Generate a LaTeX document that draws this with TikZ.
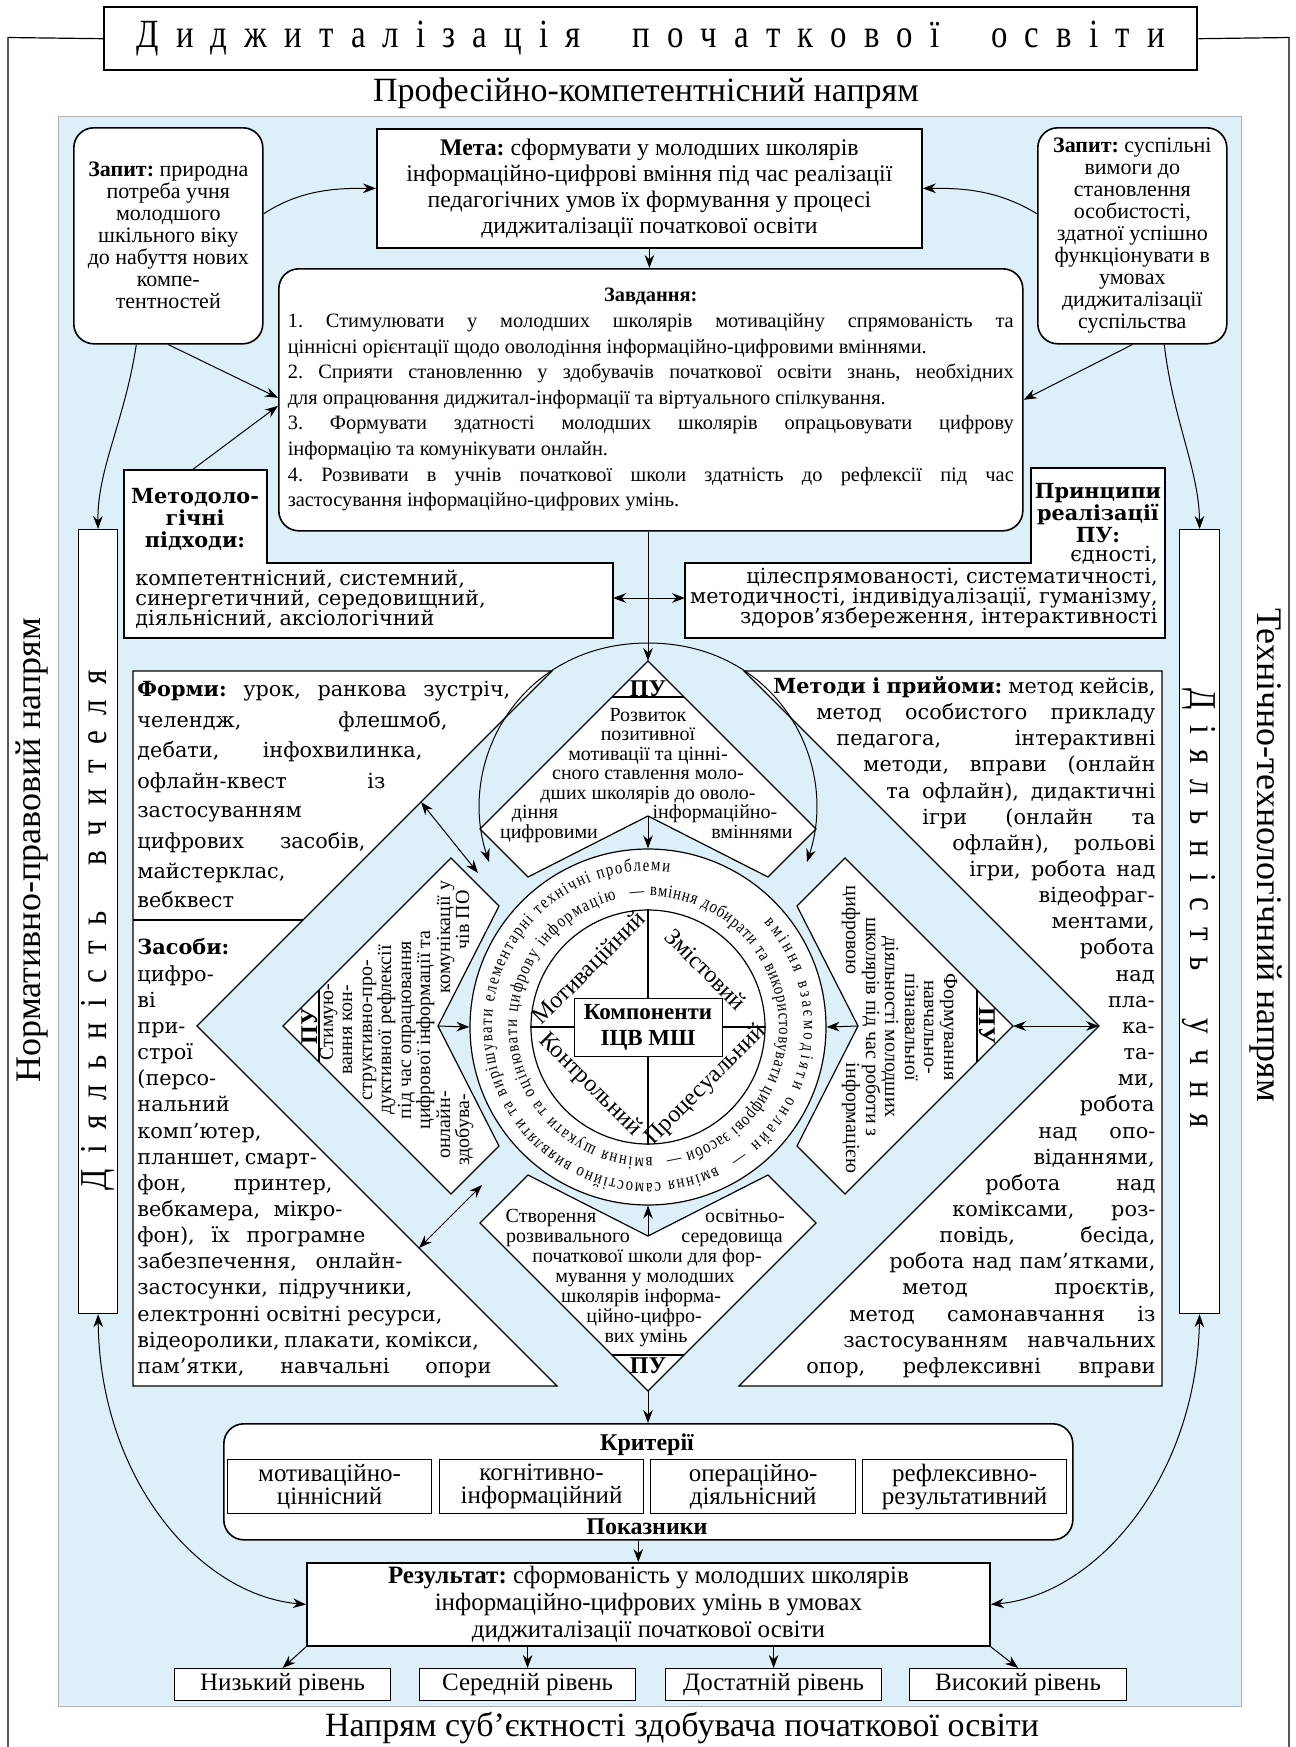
\documentclass[tikz,border=0pt]{standalone}
\usepackage{fontspec}
\setmainfont{Liberation Serif}
\newfontfamily\wf{DejaVu Serif}
\newfontfamily\cnd[FakeStretch=0.82]{Liberation Serif}
\usetikzlibrary{arrows.meta,decorations.text}
\definecolor{bgblue}{RGB}{221,240,250}
\frenchspacing
\newcommand\fsz[2]{\fontsize{#1}{#2}\selectfont}
\newcommand\ringf{\cnd\fsz{9}{10}}
\newcommand\fjl[4]{\node[wtext,anchor=base west] (j#1x#3) at (#1,#3) {\makebox[\dimexpr #2pt/2-#1pt/2\relax][s]{#4}};}
\newcommand\fll[3]{\node[wtext,anchor=base west] (l#1x#2) at (#1,#2) {#3};}
\newcommand\frl[3]{\node[wtext,anchor=base east] (r#1x#2) at (#1,#2) {#3};}
\tikzset{
 box/.style={draw,fill=white,line width=0.6pt,inner sep=0pt,anchor=north west},
 rbox/.style={box,rounded corners=10pt,line width=0.8pt},
 shp/.style={draw,fill=white,line width=0.6pt},
 arr/.style={-{Stealth[length=6.5pt,width=4.8pt]},line width=0.5pt},
 darr/.style={{Stealth[length=6.5pt,width=4.8pt]}-{Stealth[length=6.5pt,width=4.8pt]},line width=0.5pt},
 wtext/.style={inner sep=0pt,font=\wf\fsz{10.4}{12}},
 putext/.style={inner sep=0pt,font=\fsz{10}{10},anchor=base},
 pulab/.style={inner sep=0pt,font=\bfseries\fsz{12}{12},anchor=base},
 qlab/.style={inner sep=0pt,font=\fsz{12}{12}},
 ringtext/.style={decorate,decoration={text along path,text={|\ringf|#1},text align={fit to path}}}
}
\begin{document}
\begin{tikzpicture}[x=0.5pt,y=-0.5pt]
\useasboundingbox (0,0) rectangle (1296,1747);
\fill[bgblue] (58,116) rectangle (1241,1706);
\draw[gray!60,line width=0.4pt] (58,116) rectangle (1241,1706);
% title and frame
\node[box,line width=1.2pt,minimum width=546.5pt,minimum height=31.5pt,font=\cnd\fsz{20}{20}] (title) at (103,6)
 {\makebox[514pt][s]{Д\hfill и\hfill д\hfill ж\hfill и\hfill т\hfill а\hfill л\hfill і\hfill з\hfill а\hfill ц\hfill і\hfill я\hfill\hfill\hfill п\hfill о\hfill ч\hfill а\hfill т\hfill к\hfill о\hfill в\hfill о\hfill ї\hfill\hfill\hfill о\hfill с\hfill в\hfill і\hfill т\hfill и}};
\draw[line width=0.6pt] (title.west) -- (8,37.5) -- (8,1747);
\draw[line width=0.6pt] (title.east) -- (1289,37.5) -- (1289,1747);
\node[font=\fsz{17}{17}] (napT) at (646,93) {Професійно-компетентнісний напрям};
\node[font=\fsz{18}{18},rotate=90] (napL) at (32,850) {Нормативно-правовий напрям};
\node[font=\fsz{18}{18},rotate=-90] (napR) at (1266,855) {Технічно-технологічний напрям};
\node[font=\fsz{17}{17}] (napB) at (682,1728) {Напрям суб’єктності здобувача початкової освіти};
% top boxes
\node[rbox,minimum width=94.5pt,minimum height=108pt,align=center,font=\fsz{11}{11}] (zapL) at (73,127)
 {\textbf{Запит:} природна\\потреба учня\\молодшого\\шкільного віку\\до набуття нових\\компе-\\тентностей};
\node[rbox,minimum width=94.5pt,minimum height=108pt,align=center,font=\fsz{11}{11}] (zapR) at (1037,127)
 {\textbf{Запит:} суспільні\\вимоги до\\становлення\\особистості,\\здатної успішно\\функціонувати в\\умовах\\диджиталізації\\суспільства};
\node[box,line width=0.9pt,minimum width=272.5pt,minimum height=59.5pt,align=center,font=\fsz{11.9}{13}] (meta) at (376,128)
 {\textbf{Мета:} сформувати у молодших школярів\\інформаційно-цифрові вміння під час реалізації\\педагогічних умов їх формування у процесі\\диджиталізації початкової освіти};
\node[rbox,minimum width=372pt,minimum height=131pt,align=left,font=\fsz{10.2}{12.8}] (zavd) at (278,268)
 {\makebox[363pt][c]{\textbf{Завдання:}}\\
  \makebox[363pt][s]{1. Стимулювати у молодших школярів мотиваційну спрямованість та}\\
  ціннісні орієнтації щодо оволодіння інформаційно-цифровими вміннями.\\
  \makebox[363pt][s]{2. Сприяти становленню у здобувачів початкової освіти знань, необхідних}\\
  для опрацювання диджитал-інформації та віртуального спілкування.\\
  \makebox[363pt][s]{3. Формувати здатності молодших школярів опрацьовувати цифрову}\\
  інформацію та комунікувати онлайн.\\
  \makebox[363pt][s]{4. Розвивати в учнів початкової школи здатність до рефлексії під час}\\
  застосування інформаційно-цифрових умінь.};
% approaches and principles
\draw[shp] (124,470) -- (267,470) -- (267,563) -- (613,563) -- (613,638) -- (124,638) -- cycle;
\node[font=\wf\bfseries\fsz{10.4}{11},align=center,inner sep=0pt] (mh) at (195,519) {Методоло-\\гічні\\підходи:};
\fll{135}{585}{компетентнісний, системний,}
\fll{135}{605}{синергетичний, середовищний,}
\fll{135}{625}{діяльнісний, аксіологічний}
\draw[shp] (1031,468) -- (1165,468) -- (1165,638) -- (685,638) -- (685,563) -- (1031,563) -- cycle;
\node[font=\wf\bfseries\fsz{10.4}{11},align=center,inner sep=0pt] (ph) at (1098,513) {Принципи\\реалізації\\ПУ:};
\frl{1158}{561}{єдності,}
\frl{1158}{583}{цілеспрямованості, систематичності,}
\frl{1158}{603}{методичності, індивідуалізації, гуманізму,}
\frl{1158}{623}{здоров’язбереження, інтерактивності}
% side columns
\node[box,minimum width=19.5pt,minimum height=392pt] (teach) at (78,529) {};
\node[font=\cnd\fsz{19}{19},rotate=90,inner sep=0pt] (teachT) at (97.5,930)
 {\makebox[260pt][s]{Д\hfill і\hfill я\hfill л\hfill ь\hfill н\hfill і\hfill с\hfill т\hfill ь\hfill\hfill\hfill в\hfill ч\hfill и\hfill т\hfill е\hfill л\hfill я}};
\node[box,minimum width=20pt,minimum height=392pt] (stud) at (1179,529) {};
\node[font=\cnd\fsz{19}{19},rotate=-90,inner sep=0pt] (studT) at (1199,908)
 {\makebox[220pt][s]{Д\hfill і\hfill я\hfill л\hfill ь\hfill н\hfill і\hfill с\hfill т\hfill ь\hfill\hfill\hfill у\hfill ч\hfill н\hfill я}};
% outer rhombus areas
\draw[shp] (133,671) -- (552,671) -- (197,1026) -- (557,1386) -- (133,1386) -- cycle;
\draw[line width=0.6pt] (133,920) -- (303,920);
\draw[shp] (744,671) -- (1162,671) -- (1162,1386) -- (739,1386) -- (1099,1026) -- cycle;
\coordinate (vL) at (197,1026);
\coordinate (vR) at (1099,1026);
% chevrons
\draw[shp] (648,661) -- (816,829) -- (768,877) -- (648,816) -- (528,877) -- (480,829) -- cycle;
\draw[shp] (648,1391) -- (816,1223) -- (768,1175) -- (648,1236) -- (528,1175) -- (480,1223) -- cycle;
\draw[shp] (283,1026) -- (451,858) -- (499,906) -- (438,1026) -- (499,1146) -- (451,1194) -- cycle;
\draw[shp] (1013,1026) -- (845,858) -- (797,906) -- (858,1026) -- (797,1146) -- (845,1194) -- cycle;
\coordinate (tA) at (648,661); \coordinate (tN) at (648,816);
\coordinate (bA) at (648,1391); \coordinate (bN) at (648,1236);
\coordinate (lA) at (283,1026); \coordinate (lN) at (438,1026);
\coordinate (rA) at (1013,1026); \coordinate (rN) at (858,1026);
\draw[line width=0.6pt] (612,697) -- (684,697);
\draw[line width=0.6pt] (612,1355) -- (684,1355);
\draw[line width=0.6pt] (319,990) -- (319,1062);
\draw[line width=0.6pt] (977,990) -- (977,1062);
% central circle
\node[circle,draw,fill=white,minimum size=178pt,inner sep=0pt,line width=0.6pt] (ring) at (648,1027) {};
\node[circle,draw,minimum size=117pt,inner sep=0pt,line width=0.6pt] (core) at (648,1027) {};
\node[draw,fill=white,minimum width=74pt,minimum height=29pt,inner sep=0pt,align=center,font=\bfseries\fsz{11.5}{13}] (comp) at (648,1027) {Компоненти\\ІЦВ МШ};
\draw[line width=0.6pt] (core.north) -- (comp.north);
\draw[line width=0.6pt] (comp.south) -- (core.south);
\draw[line width=0.6pt] (core.west) -- (comp.west);
\draw[line width=0.6pt] (comp.east) -- (core.east);
\node[qlab,rotate=45] (q1) at (590,969) {Мотиваційний};
\node[qlab,rotate=-45] (q2) at (706,969) {Змістовий};
\node[qlab,rotate=-45] (q3) at (590,1085) {Контрольний};
\node[qlab,rotate=45] (q4) at (706,1085) {Процесуальний};
\begin{scope}[shift={(648,1027)},x=1pt,y=1pt]
\path[ringtext={вміння взаємодіяти онлайн —}] (42:78pt) arc[start angle=42,end angle=-58,radius=78pt];
\path[ringtext={вміння самостійно виявляти та вирішувати елементарні технічні проблеми}] (-64:78pt) arc[start angle=-64,end angle=-278,radius=78pt];
\path[ringtext={— вміння добирати та використовувати цифрові засоби —}] (98:65.5pt) arc[start angle=98,end angle=-82,radius=65.5pt];
\path[ringtext={вміння шукати та оцінювати цифрову інформацію}] (-88:65.5pt) arc[start angle=-88,end angle=-256,radius=65.5pt];
\end{scope}
% PU texts top
\node[pulab] (puT) at (648,696) {ПУ};
\node[putext] (t1) at (648,721) {Розвиток};
\node[putext] (t2) at (648,740.5) {позитивної};
\node[putext] (t3) at (648,760) {мотивації та цінні-};
\node[putext] (t4) at (648,779.5) {сного ставлення моло-};
\node[putext] (t5) at (648,799) {дших школярів до оволо-};
\node[putext] (t6a) at (535,818.5) {діння};
\node[putext] (t6b) at (715,818.5) {інформаційно-};
\node[putext] (t7a) at (549,838) {цифровими};
\node[putext] (t7b) at (752,838) {вміннями};
% PU bottom
\node[pulab] (puB) at (648,1373) {ПУ};
\node[putext] (b1a) at (551,1222) {Створення};
\node[putext] (b1b) at (745,1222) {освітньо-};
\node[putext] (b2a) at (568,1242) {розвивального};
\node[putext] (b2b) at (732,1242) {середовища};
\node[putext] (b3) at (647,1262) {початкової школи для фор-};
\node[putext] (b4) at (645,1282) {мування у молодших};
\node[putext] (b5) at (641,1302) {школярів інформа-};
\node[putext] (b6) at (644,1322) {ційно-цифро-};
\node[putext] (b7) at (646,1342) {вих умінь};
% PU left
\node[pulab,rotate=90] (puL) at (317,1026) {ПУ};
\node[putext,rotate=90] (l1) at (333,1022) {Стимую-};
\node[putext,rotate=90] (l2) at (352,1030) {вання кон-};
\node[putext,rotate=90] (l3) at (372,1030) {структивно-про-};
\node[putext,rotate=90] (l4) at (391,1030) {дуктивної рефлексії};
\node[putext,rotate=90] (l5) at (411,1030) {під час опрацювання};
\node[putext,rotate=90] (l6) at (430,1030) {цифрової інформації та};
\node[putext,rotate=90] (l7a) at (450,1125) {онлайн-};
\node[putext,rotate=90] (l7b) at (450,937) {комунікації у};
\node[putext,rotate=90] (l8a) at (469,1130) {здобува-};
\node[putext,rotate=90] (l8b) at (469,920) {чів ПО};
% PU right
\node[pulab,rotate=-90] (puR) at (979,1026) {ПУ};
\node[putext,rotate=-90] (r1) at (944,1027) {Формування};
\node[putext,rotate=-90] (r2) at (924,1027) {навчально-};
\node[putext,rotate=-90] (r3) at (905,1027) {пізнавальної};
\node[putext,rotate=-90] (r4) at (885,1027) {діяльності молодших};
\node[putext,rotate=-90] (r5) at (866,1027) {школярів під час роботи з};
\node[putext,rotate=-90] (r6a) at (846,930) {цифровою};
\node[putext,rotate=-90] (r6b) at (846,1118) {інформацією};
% forms
\fjl{137}{510}{696}{\textbf{Форми:} урок, ранкова зустріч,}
\fjl{137}{447}{727}{челендж, флешмоб,}
\fjl{137}{422}{757}{дебати, інфохвилинка,}
\fjl{137}{385}{788}{офлайн-квест із}
\fll{137}{817}{застосуванням}
\fjl{137}{365}{848}{цифрових засобів,}
\fll{137}{878}{майстерклас,}
\fll{137}{907}{вебквест}
% means
\fll{137}{954}{\textbf{Засоби:}}
\fll{137}{981}{цифро-}
\fll{137}{1007}{ві}
\fll{137}{1033}{при-}
\fll{137}{1059}{строї}
\fll{137}{1085}{(персо-}
\fll{137}{1111}{нальний}
\fll{137}{1138}{комп’ютер,}
\fjl{137}{316}{1164}{планшет, смарт-}
\fjl{137}{332}{1190}{фон, принтер,}
\fjl{137}{342}{1216}{вебкамера, мікро-}
\fjl{137}{365}{1242}{фон), їх програмне}
\fjl{137}{402}{1268}{забезпечення, онлайн-}
\fjl{137}{412}{1294}{застосунки, підручники,}
\fjl{137}{442}{1321}{електронні освітні ресурси,}
\fjl{137}{468}{1347}{відеоролики, плакати, комікси,}
\fjl{137}{491}{1373}{пам’ятки, навчальні опори}
% methods
\fjl{773}{1155}{693}{\textbf{Методи і прийоми:} метод кейсів,}
\fjl{816}{1155}{719}{метод особистого прикладу}
\fjl{836}{1155}{745}{педагога, інтерактивні}
\fjl{863}{1155}{771}{методи, вправи (онлайн}
\fjl{886}{1155}{798}{та офлайн), дидактичні}
\fjl{922}{1155}{824}{ігри (онлайн та}
\fjl{952}{1155}{850}{офлайн), рольові}
\fjl{969}{1155}{876}{ігри, робота над}
\frl{1155}{902}{відеофраг-}
\frl{1155}{928}{ментами,}
\frl{1155}{954}{робота}
\frl{1155}{981}{над}
\frl{1155}{1007}{пла-}
\frl{1155}{1033}{ка-}
\frl{1155}{1059}{та-}
\frl{1155}{1085}{ми,}
\frl{1155}{1111}{робота}
\fjl{1038}{1155}{1138}{над опо-}
\frl{1155}{1164}{віданнями,}
\fjl{985}{1155}{1190}{робота над}
\fjl{952}{1155}{1216}{коміксами, роз-}
\fjl{939}{1155}{1242}{повідь, бесіда,}
\fjl{889}{1155}{1268}{робота над пам’ятками,}
\fjl{902}{1155}{1294}{метод проєктів,}
\fjl{849}{1155}{1321}{метод самонавчання із}
\fjl{843}{1155}{1347}{застосуванням навчальних}
\fjl{806}{1155}{1373}{опор, рефлексивні вправи}
% criteria and results
\node[rbox,minimum width=424.5pt,minimum height=58pt] (krit) at (223,1423) {};
\node[font=\bfseries\fsz{12}{12}] (kritT) at (647,1445) {Критерії};
\node[font=\bfseries\fsz{12}{12}] (pokT) at (647,1527) {Показники};
\node[box,minimum width=102pt,minimum height=27pt,align=center,font=\fsz{12.5}{11.5}] (k1) at (227,1459) {мотиваційно-\\ціннісний};
\node[box,minimum width=102pt,minimum height=27pt,align=center,font=\fsz{12.5}{11.5}] (k2) at (439,1459) {когнітивно-\\інформаційний};
\node[box,minimum width=102.5pt,minimum height=27pt,align=center,font=\fsz{12.5}{11.5}] (k3) at (650,1459) {операційно-\\діяльнісний};
\node[box,minimum width=102pt,minimum height=27pt,align=center,font=\fsz{12.5}{11.5}] (k4) at (862,1459) {рефлексивно-\\результативний};
\node[box,line width=0.9pt,minimum width=341.5pt,minimum height=41.5pt,align=center,font=\fsz{12.5}{13.5}] (rez) at (306,1562)
 {\textbf{Результат:} сформованість у молодших школярів\\інформаційно-цифрових умінь в умовах\\диджиталізації початкової освіти};
\node[box,minimum width=108pt,minimum height=16pt,font=\fsz{12.5}{12.5}] (lev1) at (174,1668) {Низький рівень};
\node[box,minimum width=108pt,minimum height=16pt,font=\fsz{12.5}{12.5}] (lev2) at (419,1668) {Середній рівень};
\node[box,minimum width=108pt,minimum height=16pt,font=\fsz{12.5}{12.5}] (lev3) at (665,1668) {Достатній рівень};
\node[box,minimum width=108.5pt,minimum height=16pt,font=\fsz{12.5}{12.5}] (lev4) at (909,1668) {Високий рівень};
% connectors
\draw[arr] (meta.south) -- (meta.south |- zavd.north);
\draw[arr] ([yshift=11pt]zapL.east) .. controls (300,190) and (335,188) .. (meta.west);
\draw[arr] ([yshift=11pt]zapR.west) .. controls (998,190) and (963,188) .. (meta.east);
\draw[arr] (zapL.south) -- ([yshift=1pt]zavd.west);
\coordinate (mT) at (192,470);
\draw[arr] (mT) -- ([yshift=-3pt]zavd.west);
\draw[arr] (zapR.south) -- (zavd.east);
\draw[arr] ([xshift=-16pt]zapL.south) .. controls (125,420) and (97,470) .. (teach.north);
\draw[arr] ([xshift=16pt]zapR.south) .. controls (1173,420) and (1199,470) .. (stud.north);
\coordinate (mR) at (613,598); \coordinate (pL) at (685,598);
\draw[darr] (mR) -- (pL);
\draw[arr] (tA |- zavd.south) -- (tA);
\coordinate (aT) at (648,643);
\coordinate (aL) at (489,862); \coordinate (aR) at (807,862);
\draw[arr] (aT) .. controls (521,643) and (456,760) .. (aL);
\draw[arr] (aT) .. controls (775,643) and (840,760) .. (aR);
\draw[arr] (tN) -- (ring.north);
\draw[arr] (bN) -- (ring.south);
\draw[arr] (lN) -- (ring.west);
\draw[arr] (rN) -- (ring.east);
\draw[darr] (rA) -- (vR);
\coordinate (dl1) at (421,802); \coordinate (dl2) at (478,873);
\draw[darr] (dl1) -- (dl2);
\coordinate (dl3) at (419,1248); \coordinate (dl4) at (482,1185);
\draw[darr] (dl3) -- (dl4);
\draw[darr] (teach.south) .. controls (100,1480) and (200,1595) .. (rez.west);
\draw[darr] (stud.south) .. controls (1196,1480) and (1095,1595) .. (rez.east);
\draw[arr] (bA) -- (bA |- krit.north);
\draw[arr] ([xshift=-5pt]krit.south) -- ([xshift=-5pt]krit.south |- rez.north);
\draw[arr] (rez.south west) -- (lev1.north);
\draw[arr] (lev2.north |- rez.south) -- (lev2.north);
\draw[arr] (lev3.north |- rez.south) -- (lev3.north);
\draw[arr] (rez.south east) -- (lev4.north);
\end{tikzpicture}
\end{document}
